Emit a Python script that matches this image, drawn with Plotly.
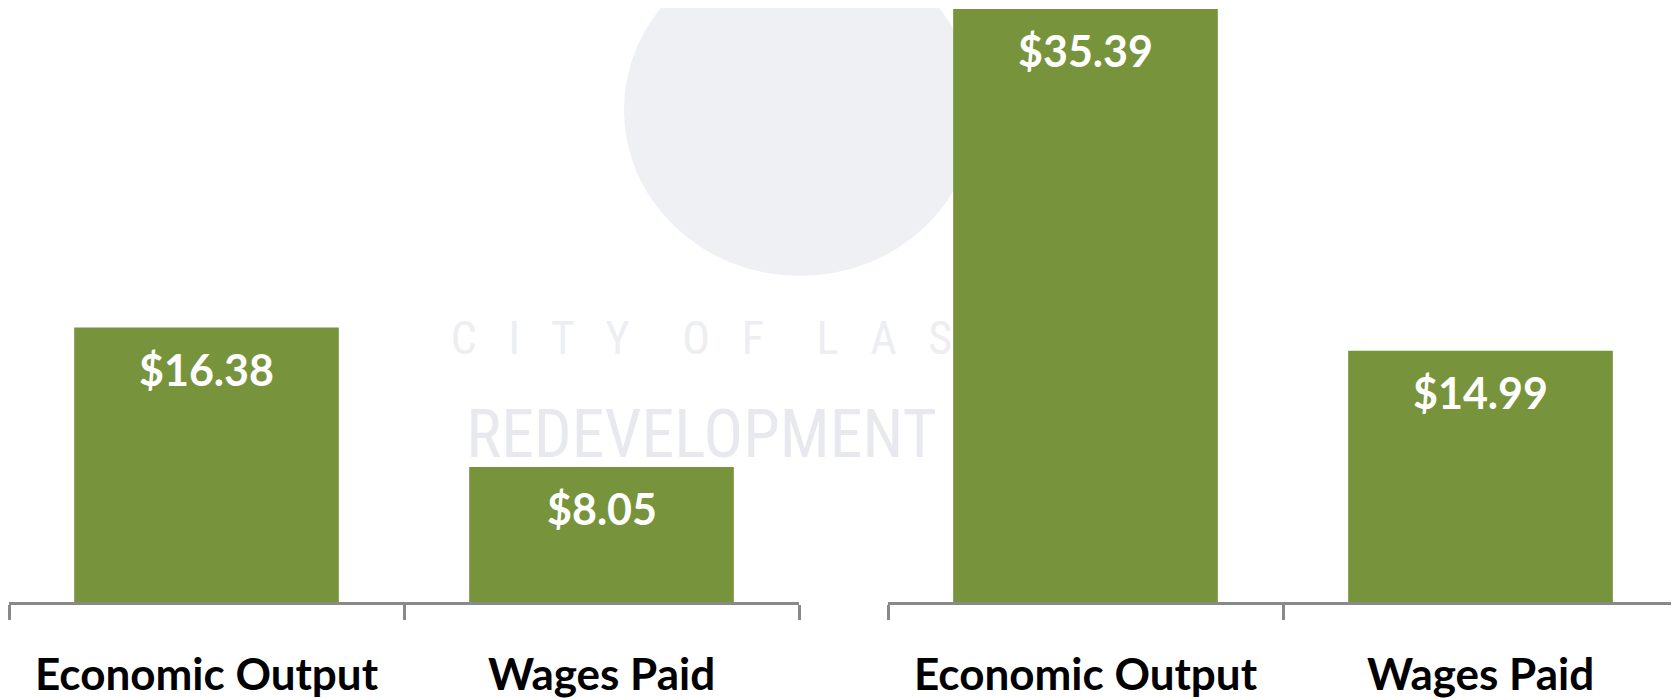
import plotly.graph_objects as go
from plotly.subplots import make_subplots

# values in millions of dollars, two panels side by side
categories = ['Economic Output', 'Wages Paid']
left_values = [16.38, 8.05]
right_values = [35.39, 14.99]
left_labels = ['$16.38', '$8.05']
right_labels = ['$35.39', '$14.99']

BAR_GREEN = '#77933C'
AXIS_GRAY = '#898989'

# page body has an 8px margin, so the figure is 8px smaller than the window
W, H = 1671, 691

fig = make_subplots(rows=1, cols=2)

fig.add_trace(go.Bar(x=categories, y=left_values, marker=dict(color=BAR_GREEN, line=dict(width=0)),
                     showlegend=False, hoverinfo='skip'), row=1, col=1)
fig.add_trace(go.Bar(x=categories, y=right_values, marker=dict(color=BAR_GREEN, line=dict(width=0)),
                     showlegend=False, hoverinfo='skip'), row=1, col=2)

# value labels sitting inside the top of each bar
for xref, yref, vals, labs in [('x', 'y', left_values, left_labels),
                               ('x2', 'y2', right_values, right_labels)]:
    for cat, v, lab in zip(categories, vals, labs):
        fig.add_annotation(x=cat, y=v, xref=xref, yref=yref, text=lab, showarrow=False,
                           yanchor='top', yshift=-14,
                           font=dict(family='Lato', size=43, color='white', weight='bold'))

# faint watermark of the agency logo, kept below the bars
fig.add_shape(type='circle', xref='paper', yref='paper', x0=0.3686, x1=0.5793, y0=0.549, y1=1.108,
              fillcolor='#eef0f4', line=dict(width=0), layer='below')
wm_font = 'Liberation Sans Narrow, Roboto Condensed, Liberation Sans'
fig.add_shape(type='rect', xref='paper', yref='paper', x0=0.28, x1=0.55, y0=0.40, y1=0.50,
              line=dict(width=0), fillcolor='rgba(0,0,0,0)', layer='below',
              label=dict(text='C   I   T   Y     O   F     L   A   S', textposition='middle center',
                         font=dict(family=wm_font, size=46, color='#eceef1')))
fig.add_shape(type='rect', xref='paper', yref='paper', x0=0.28, x1=0.55, y0=0.22, y1=0.36,
              line=dict(width=0), fillcolor='rgba(0,0,0,0)', layer='below',
              label=dict(text='REDEVELOPMENT', textposition='middle center',
                         font=dict(family=wm_font, size=66, color='#e7e9ee')))

axis_style = dict(showline=True, linecolor=AXIS_GRAY, linewidth=3, ticks='outside', tickson='boundaries',
                  ticklen=15, tickwidth=3, tickcolor=AXIS_GRAY, showgrid=False, zeroline=False,
                  ticklabelstandoff=32, fixedrange=True,
                  tickfont=dict(family='Lato', size=44, color='black', weight='bold'))
fig.update_xaxes(**axis_style)
fig.update_layout(
    xaxis=dict(domain=[1 / W, 791 / W]),
    xaxis2=dict(domain=[880 / W, 1670 / W]),
    yaxis=dict(range=[0, 35.45], visible=False),
    yaxis2=dict(range=[0, 35.45], visible=False),
    bargap=0.33,
    width=W, height=H,
    margin=dict(l=0, r=0, t=0, b=97),
    plot_bgcolor='rgba(0,0,0,0)', paper_bgcolor='white',
)

fig.write_html("out.html", config={'displayModeBar': False})
